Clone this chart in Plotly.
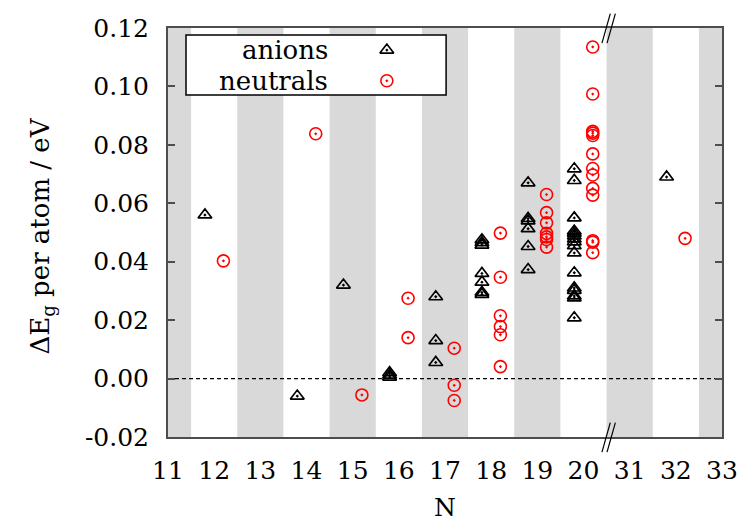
import plotly.graph_objects as go

# ---------------- data ----------------
tick_labels = ["11", "12", "13", "14", "15", "16", "17", "18", "19", "20", "31", "32", "33"]
y_ticks = [-0.02, 0.00, 0.02, 0.04, 0.06, 0.08, 0.10, 0.12]
y_ticktext = ["-0.02", "0.00", "0.02", "0.04", "0.06", "0.08", "0.10", "0.12"]

anion_N = [12, 14, 15,
           16, 16, 16,
           17, 17, 17,
           18, 18, 18, 18, 18, 18, 18,
           19, 19, 19, 19, 19, 19,
           20, 20, 20, 20, 20, 20, 20, 20, 20, 20, 20, 20, 20, 20, 20, 20,
           32]
anion_dE = [0.056, -0.006, 0.032,
            0.0005, 0.0012, 0.002,
            0.028, 0.013, 0.0055,
            0.0475, 0.0465, 0.0457, 0.036, 0.033, 0.0295, 0.0288,
            0.067, 0.0548, 0.0540, 0.0513, 0.0452, 0.0373,
            0.0718, 0.0678, 0.055, 0.0505, 0.0497, 0.0488, 0.0478, 0.0468, 0.0455, 0.043,
            0.0362, 0.031, 0.0302, 0.0283, 0.0276, 0.0208,
            0.069]

neutral_N = [12, 14, 15,
             16, 16,
             17, 17, 17,
             18, 18, 18, 18, 18, 18,
             19, 19, 19, 19, 19, 19, 19,
             20, 20, 20, 20, 20, 20, 20, 20, 20, 20, 20, 20, 20,
             32]
neutral_dE = [0.0403, 0.0838, -0.0056,
              0.0275, 0.014,
              0.0104, -0.0023, -0.0075,
              0.0498, 0.0347, 0.0215, 0.0178, 0.015, 0.0041,
              0.063, 0.0568, 0.0533, 0.0497, 0.0485, 0.0476, 0.045,
              0.1135, 0.0974, 0.0846, 0.0840, 0.0832, 0.0769, 0.0719, 0.0697, 0.0651, 0.0628,
              0.0472, 0.0467, 0.0431,
              0.048]

series_names = ["anions", "neutrals"]
y_title = "ΔE<sub>g</sub> per atom / eV"
x_title = "N"

# ---------------- styling ----------------
FONT = "DejaVu Serif"
AXIS_COL = "#4d4d4d"
BAND_COL = "#d9d9d9"

idx = {int(t): i for i, t in enumerate(tick_labels)}
ax_x = [idx[n] - 0.2 for n in anion_N]
nx_x = [idx[n] + 0.2 for n in neutral_N]
n_ticks = len(tick_labels)

tri = dict(symbol="triangle-up-open-dot", size=12, color="black",
           line=dict(width=1.7, color="black"))
circ = dict(symbol="circle-open-dot", size=12, color="red",
            line=dict(width=1.6, color="red"))

fig = go.Figure()

fig.add_trace(go.Scatter(x=ax_x, y=anion_dE, mode="markers", name=series_names[0],
                         showlegend=False, marker=tri))
fig.add_trace(go.Scatter(x=nx_x, y=neutral_dE, mode="markers", name=series_names[1],
                         showlegend=False, marker=circ))

# legend symbols on an overlay axis (0..1)
fig.add_trace(go.Scatter(x=[0.395], y=[0.946], xaxis="x2", yaxis="y2", mode="markers",
                         showlegend=False, hoverinfo="skip", marker=tri))
fig.add_trace(go.Scatter(x=[0.395], y=[0.871], xaxis="x2", yaxis="y2", mode="markers",
                         showlegend=False, hoverinfo="skip", marker=circ))

shapes = []
# alternating grey bands (even indices)
for i in range(0, n_ticks, 2):
    shapes.append(dict(type="rect", xref="x", yref="paper",
                       x0=max(i - 0.5, 0), x1=min(i + 0.5, n_ticks - 1),
                       y0=0, y1=1, fillcolor=BAND_COL, line=dict(width=0),
                       layer="below"))
# zero dashed line
shapes.append(dict(type="line", xref="paper", yref="y", x0=0, x1=1, y0=0, y1=0,
                   line=dict(color="black", width=1.2, dash="4px,3px"), layer="below"))
# legend box
shapes.append(dict(type="rect", xref="paper", yref="paper",
                   x0=0.0325, x1=0.502, y0=0.836, y1=0.983,
                   fillcolor="white", line=dict(color="black", width=1.5),
                   layer="below"))
# axis break marks "//"
for yb in (0.0, 1.0):
    for dx in (0.0, 0.11):
        shapes.append(dict(type="line", xref="x", yref="paper",
                           x0=9.40 + dx, x1=9.58 + dx,
                           y0=yb - 0.037, y1=yb + 0.035,
                           line=dict(color="black", width=1.2)))

annotations = [
    dict(text=series_names[0], xref="paper", yref="paper", x=0.292, y=0.946,
         xanchor="right", yanchor="middle", showarrow=False,
         font=dict(family=FONT, size=26, color="black")),
    dict(text=series_names[1], xref="paper", yref="paper", x=0.292, y=0.871,
         xanchor="right", yanchor="middle", showarrow=False,
         font=dict(family=FONT, size=26, color="black")),
    dict(text=y_title, xref="paper", yref="paper", x=0, y=0.49, xshift=-126,
         xanchor="center", yanchor="middle", textangle=-90, showarrow=False,
         font=dict(family=FONT, size=26, color="black")),
]

fig.update_layout(
    width=739, height=522,
    margin=dict(l=168, r=17, t=28, b=85),
    paper_bgcolor="white", plot_bgcolor="white",
    font=dict(family=FONT, size=25, color="black"),
    shapes=shapes, annotations=annotations,
    xaxis=dict(range=[0, n_ticks - 1], tickvals=list(range(n_ticks)), ticktext=tick_labels,
               showgrid=False, zeroline=False, ticks="", showline=True, mirror=True,
               linecolor=AXIS_COL, linewidth=2, ticklabelstandoff=10, automargin=False,
               title=dict(text=x_title, font=dict(family=FONT, size=25), standoff=18),
               tickfont=dict(family=FONT, size=25)),
    yaxis=dict(range=[-0.02, 0.12], tickvals=y_ticks, ticktext=y_ticktext,
               showgrid=False, zeroline=False, ticks="inside", ticklen=7, tickwidth=1.5,
               tickcolor=AXIS_COL, showline=True, mirror="ticks",
               linecolor=AXIS_COL, linewidth=2, ticklabelstandoff=12, automargin=False,
               tickfont=dict(family=FONT, size=25)),
    xaxis2=dict(range=[0, 1], overlaying="x", visible=False),
    yaxis2=dict(range=[0, 1], overlaying="y", visible=False),
)

fig.write_html("out.html")
